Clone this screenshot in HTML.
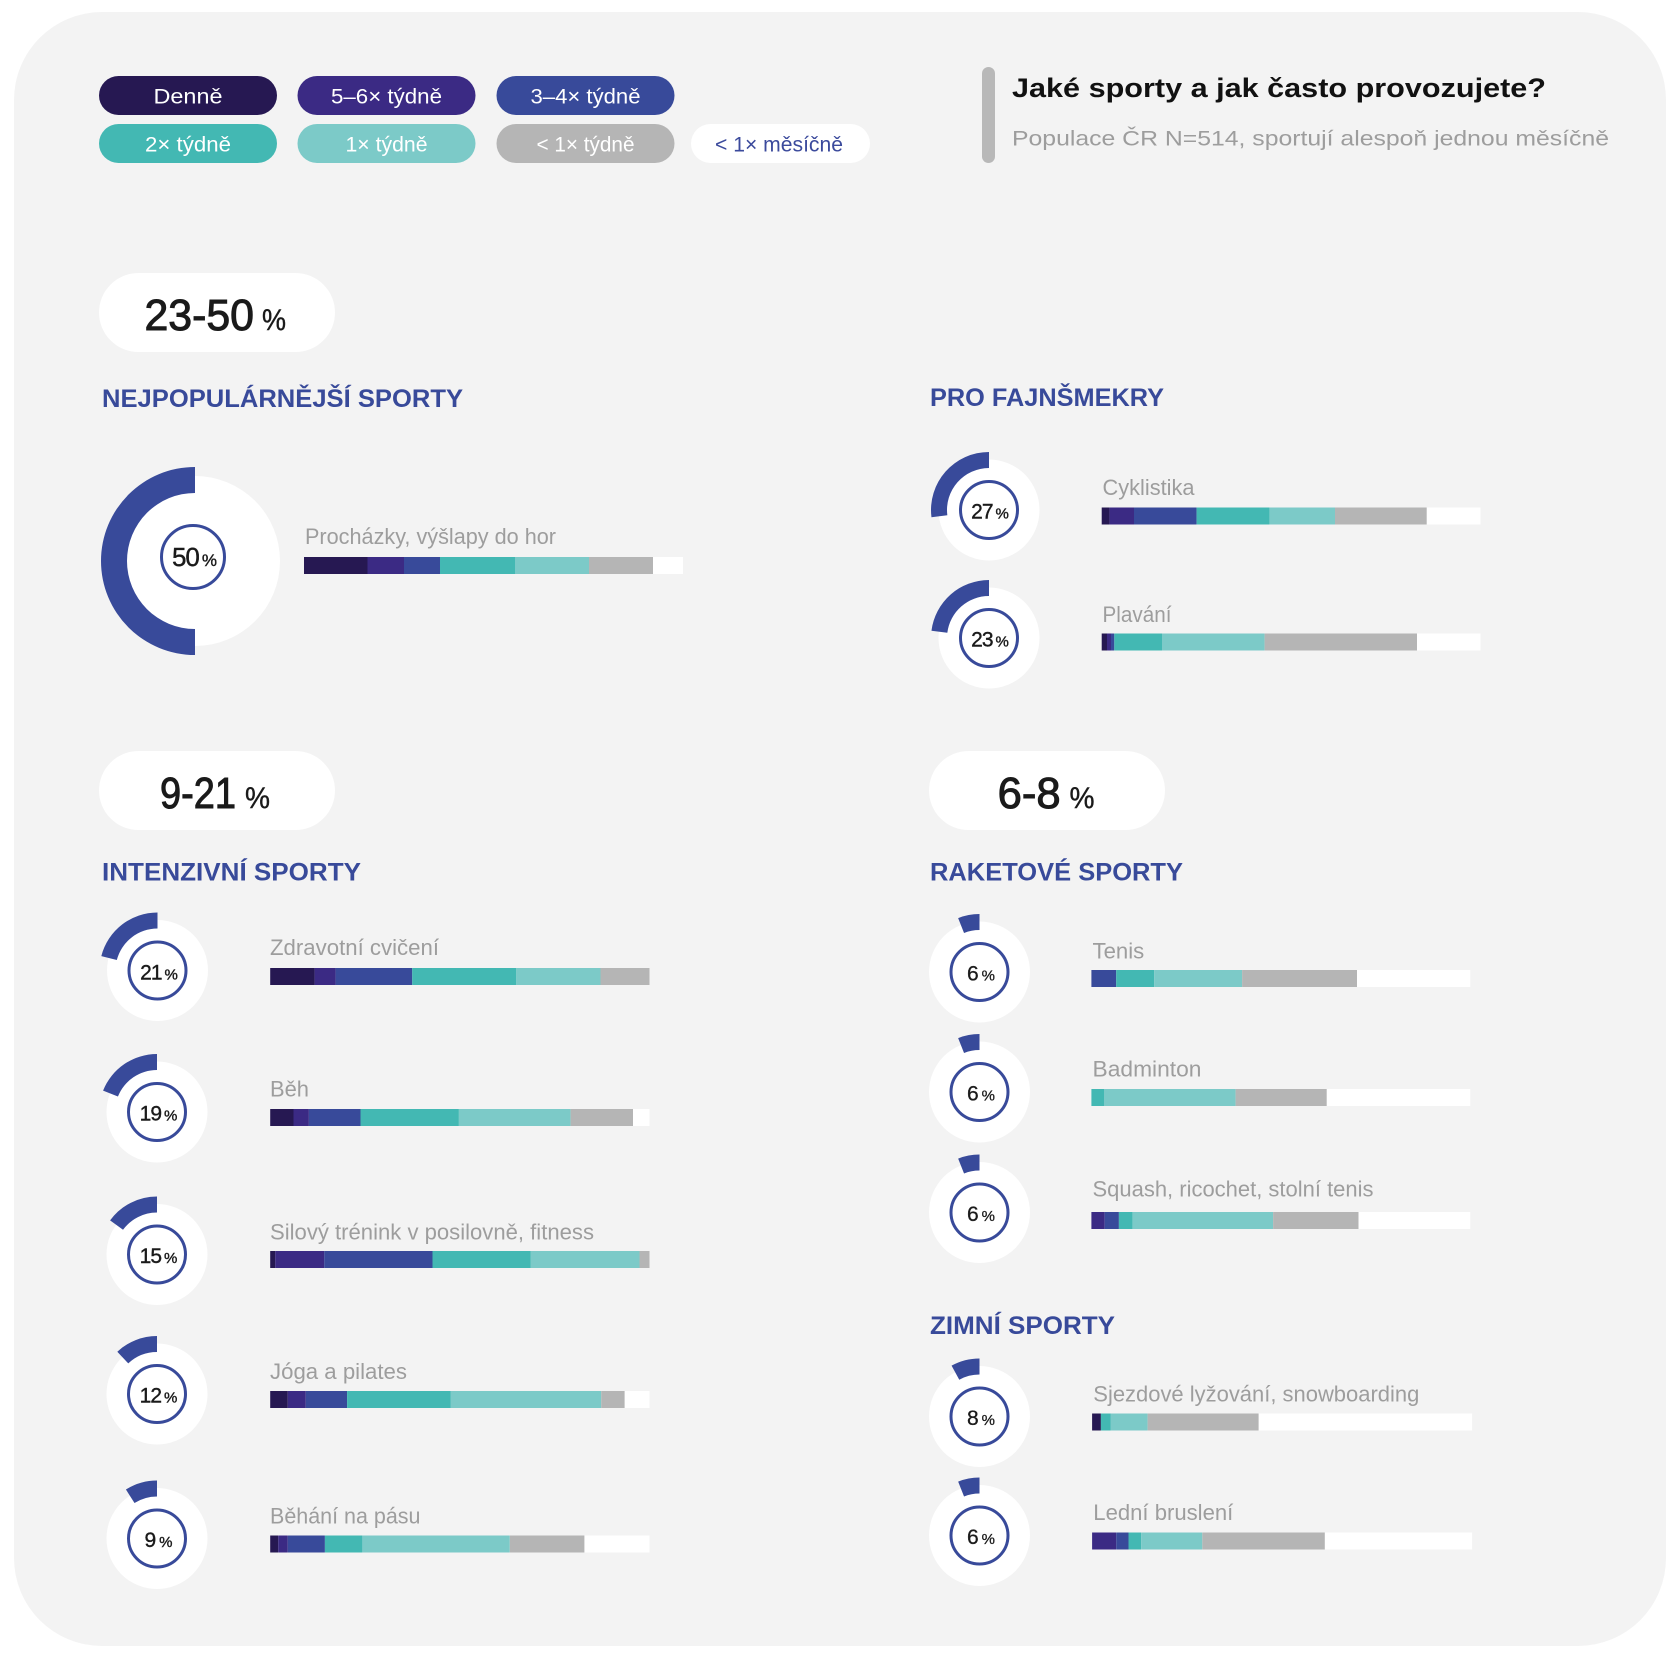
<!DOCTYPE html>
<html><head><meta charset="utf-8"><style>html,body{margin:0;padding:0;background:#fff}svg{display:block}</style></head>
<body>
<svg width="1680" height="1660" viewBox="0 0 1680 1660" xmlns="http://www.w3.org/2000/svg" font-family="'Liberation Sans', sans-serif">
<rect x="0" y="0" width="1680" height="1660" fill="#ffffff"/>
<rect x="14" y="12" width="1652" height="1634" rx="88" fill="#f3f3f3"/>

<!-- Legend -->
<g font-size="21" text-anchor="middle">
<rect x="99" y="76" width="178" height="39" rx="19.5" fill="#261852"/>
<text x="188" y="103.3" fill="#fff" textLength="69" lengthAdjust="spacingAndGlyphs">Denně</text>
<rect x="297.5" y="76" width="178" height="39" rx="19.5" fill="#3b2a84"/>
<text x="386.5" y="103.3" fill="#fff" textLength="111" lengthAdjust="spacingAndGlyphs">5–6× týdně</text>
<rect x="496.5" y="76" width="178" height="39" rx="19.5" fill="#384a9a"/>
<text x="585.5" y="103.3" fill="#fff" textLength="110" lengthAdjust="spacingAndGlyphs">3–4× týdně</text>
<rect x="99" y="124" width="178" height="39" rx="19.5" fill="#43b8b3"/>
<text x="188" y="151.7" fill="#fff" textLength="86" lengthAdjust="spacingAndGlyphs">2× týdně</text>
<rect x="297.5" y="124" width="178" height="39" rx="19.5" fill="#7ccac8"/>
<text x="386.5" y="151.7" fill="#fff" textLength="82" lengthAdjust="spacingAndGlyphs">1× týdně</text>
<rect x="496.5" y="124" width="178" height="39" rx="19.5" fill="#b5b5b5"/>
<text x="585.5" y="151.7" fill="#fff" textLength="98" lengthAdjust="spacingAndGlyphs">&lt; 1× týdně</text>
<rect x="691" y="124" width="179" height="39" rx="19.5" fill="#ffffff"/>
<text x="779" y="151.7" fill="#3b4a9c" textLength="128" lengthAdjust="spacingAndGlyphs">&lt; 1× měsíčně</text>
</g>

<!-- Title -->
<rect x="982" y="67" width="13" height="96" rx="6.5" fill="#b8b8b8"/>
<text x="1012" y="97" font-size="27" font-weight="bold" fill="#111" textLength="534" lengthAdjust="spacingAndGlyphs">Jaké sporty a jak často provozujete?</text>
<text x="1012" y="145.5" font-size="21" fill="#9d9d9d" textLength="597" lengthAdjust="spacingAndGlyphs">Populace ČR N=514, sportují alespoň jednou měsíčně</text>

<!-- Badges -->
<g fill="#1a1a1a" stroke="#1a1a1a" stroke-width="1">
<rect x="99" y="273" width="236" height="79" rx="39.5" fill="#fff" stroke="none"/>
<text x="144.5" y="330" font-size="44" textLength="109.5" lengthAdjust="spacingAndGlyphs">23-50</text>
<text x="262" y="330" font-size="30" stroke-width="0.4" textLength="24" lengthAdjust="spacingAndGlyphs">%</text>
<rect x="99" y="751" width="236" height="79" rx="39.5" fill="#fff" stroke="none"/>
<text x="160" y="808" font-size="44" textLength="76" lengthAdjust="spacingAndGlyphs">9-21</text>
<text x="245" y="808" font-size="30" stroke-width="0.4" textLength="25" lengthAdjust="spacingAndGlyphs">%</text>
<rect x="929" y="751" width="236" height="79" rx="39.5" fill="#fff" stroke="none"/>
<text x="997.6" y="808" font-size="44" textLength="63" lengthAdjust="spacingAndGlyphs">6-8</text>
<text x="1069.5" y="808" font-size="30" stroke-width="0.4" textLength="25" lengthAdjust="spacingAndGlyphs">%</text>
</g>

<!-- Headings -->
<g font-size="25" font-weight="bold" fill="#384a9a">
<text x="102" y="407" textLength="361" lengthAdjust="spacingAndGlyphs">NEJPOPULÁRNĚJŠÍ SPORTY</text>
<text x="930" y="406" textLength="234" lengthAdjust="spacingAndGlyphs">PRO FAJNŠMEKRY</text>
<text x="102" y="880.7" textLength="259" lengthAdjust="spacingAndGlyphs">INTENZIVNÍ SPORTY</text>
<text x="930" y="880.7" textLength="253" lengthAdjust="spacingAndGlyphs">RAKETOVÉ SPORTY</text>
<text x="930" y="1334" textLength="185" lengthAdjust="spacingAndGlyphs">ZIMNÍ SPORTY</text>
</g>

<!-- Donut discs -->
<g fill="#ffffff">
<circle cx="195" cy="561" r="85"/>
<circle cx="989" cy="510" r="50.5"/>
<circle cx="989" cy="638" r="50.5"/>
<circle cx="157.5" cy="970.5" r="50.5"/>
<circle cx="157" cy="1112" r="50.5"/>
<circle cx="157" cy="1254.5" r="50.5"/>
<circle cx="157" cy="1394" r="50.5"/>
<circle cx="157" cy="1538.5" r="50.5"/>
<circle cx="979.5" cy="972" r="50.5"/>
<circle cx="979.5" cy="1092" r="50.5"/>
<circle cx="979.5" cy="1212.5" r="50.5"/>
<circle cx="979.5" cy="1416.5" r="50.5"/>
<circle cx="979.5" cy="1535.5" r="50.5"/>
</g>

<!-- Arcs -->
<g fill="#384a9a">
<path d="M195,467 A94,94 0 0 0 195,655 L195,629 A68,68 0 0 1 195,493 Z"/>
<path d="M989,452 A58,58 0 0 0 931.46,517.27 L947.33,515.26 A42,42 0 0 1 989,468 Z"/>
<path d="M989,580 A58,58 0 0 0 931.46,630.73 L947.33,632.74 A42,42 0 0 1 989,596 Z"/>
<path d="M157.5,912.5 A58,58 0 0 0 101.32,956.08 L116.82,960.06 A42,42 0 0 1 157.5,928.5 Z"/>
<path d="M157,1054 A58,58 0 0 0 103.07,1090.65 L117.95,1096.54 A42,42 0 0 1 157,1070 Z"/>
<path d="M157,1196.5 A58,58 0 0 0 110.08,1220.41 L123.02,1229.81 A42,42 0 0 1 157,1212.5 Z"/>
<path d="M157,1336 A58,58 0 0 0 117.3,1351.72 L128.25,1363.38 A42,42 0 0 1 157,1352 Z"/>
<path d="M157,1480.5 A58,58 0 0 0 125.92,1489.53 L134.5,1503.04 A42,42 0 0 1 157,1496.5 Z"/>
<path d="M979.5,914 A58,58 0 0 0 958.15,918.07 L964.04,932.95 A42,42 0 0 1 979.5,930 Z"/>
<path d="M979.5,1034 A58,58 0 0 0 958.15,1038.07 L964.04,1052.95 A42,42 0 0 1 979.5,1050 Z"/>
<path d="M979.5,1154.5 A58,58 0 0 0 958.15,1158.57 L964.04,1173.45 A42,42 0 0 1 979.5,1170.5 Z"/>
<path d="M979.5,1358.5 A58,58 0 0 0 951.56,1365.67 L959.27,1379.69 A42,42 0 0 1 979.5,1374.5 Z"/>
<path d="M979.5,1477.5 A58,58 0 0 0 958.15,1481.57 L964.04,1496.45 A42,42 0 0 1 979.5,1493.5 Z"/>
</g>

<!-- Rings -->
<g fill="none" stroke="#384a9a" stroke-width="3">
<circle cx="193" cy="557" r="31.5"/>
<circle cx="989" cy="510" r="28.5"/>
<circle cx="989" cy="638" r="28.5"/>
<circle cx="157.5" cy="970.5" r="28.5"/>
<circle cx="157" cy="1112" r="28.5"/>
<circle cx="157" cy="1254.5" r="28.5"/>
<circle cx="157" cy="1394" r="28.5"/>
<circle cx="157" cy="1538.5" r="28.5"/>
<circle cx="979.5" cy="972" r="28.5"/>
<circle cx="979.5" cy="1092" r="28.5"/>
<circle cx="979.5" cy="1212.5" r="28.5"/>
<circle cx="979.5" cy="1416.5" r="28.5"/>
<circle cx="979.5" cy="1535.5" r="28.5"/>
</g>

<!-- Ring percentages -->
<g fill="#1a1a1a" text-anchor="middle">
<text x="194.5" y="566" stroke="#1a1a1a" stroke-width="0.4"><tspan font-size="26" letter-spacing="-1">50</tspan><tspan font-size="17" dx="3">%</tspan></text>
<text x="990" y="518.5" stroke="#1a1a1a" stroke-width="0.4"><tspan font-size="21" letter-spacing="-1">27</tspan><tspan font-size="15" dx="3">%</tspan></text>
<text x="990" y="646.5" stroke="#1a1a1a" stroke-width="0.4"><tspan font-size="21" letter-spacing="-1">23</tspan><tspan font-size="15" dx="3">%</tspan></text>
<text x="159" y="979.3" stroke="#1a1a1a" stroke-width="0.4"><tspan font-size="21" letter-spacing="-1">21</tspan><tspan font-size="15" dx="3">%</tspan></text>
<text x="158.5" y="1120.5" stroke="#1a1a1a" stroke-width="0.4"><tspan font-size="21" letter-spacing="-1">19</tspan><tspan font-size="15" dx="3">%</tspan></text>
<text x="158.5" y="1263" stroke="#1a1a1a" stroke-width="0.4"><tspan font-size="21" letter-spacing="-1">15</tspan><tspan font-size="15" dx="3">%</tspan></text>
<text x="158.5" y="1402.5" stroke="#1a1a1a" stroke-width="0.4"><tspan font-size="21" letter-spacing="-1">12</tspan><tspan font-size="15" dx="3">%</tspan></text>
<text x="158.5" y="1547" stroke="#1a1a1a" stroke-width="0.4"><tspan font-size="21">9</tspan><tspan font-size="15" dx="3">%</tspan></text>
<text x="981" y="980.5" stroke="#1a1a1a" stroke-width="0.3"><tspan font-size="21">6</tspan><tspan font-size="15" dx="3">%</tspan></text>
<text x="981" y="1100.5" stroke="#1a1a1a" stroke-width="0.3"><tspan font-size="21">6</tspan><tspan font-size="15" dx="3">%</tspan></text>
<text x="981" y="1221" stroke="#1a1a1a" stroke-width="0.3"><tspan font-size="21">6</tspan><tspan font-size="15" dx="3">%</tspan></text>
<text x="981" y="1425" stroke="#1a1a1a" stroke-width="0.3"><tspan font-size="21">8</tspan><tspan font-size="15" dx="3">%</tspan></text>
<text x="981" y="1544" stroke="#1a1a1a" stroke-width="0.3"><tspan font-size="21">6</tspan><tspan font-size="15" dx="3">%</tspan></text>
</g>

<!-- Labels -->
<g font-size="22" fill="#9d9d9d">
<text x="305" y="544" textLength="251" lengthAdjust="spacingAndGlyphs">Procházky, výšlapy do hor</text>
<text x="1102.5" y="495" textLength="92" lengthAdjust="spacingAndGlyphs">Cyklistika</text>
<text x="1102.5" y="622" textLength="69" lengthAdjust="spacingAndGlyphs">Plavání</text>
<text x="270" y="955" textLength="169" lengthAdjust="spacingAndGlyphs">Zdravotní cvičení</text>
<text x="270" y="1096.7" textLength="39" lengthAdjust="spacingAndGlyphs">Běh</text>
<text x="270" y="1239.3" textLength="324" lengthAdjust="spacingAndGlyphs">Silový trénink v posilovně, fitness</text>
<text x="270" y="1379" textLength="137" lengthAdjust="spacingAndGlyphs">Jóga a pilates</text>
<text x="270" y="1523.3" textLength="150.5" lengthAdjust="spacingAndGlyphs">Běhání na pásu</text>
<text x="1092.5" y="958.3" textLength="51.7" lengthAdjust="spacingAndGlyphs">Tenis</text>
<text x="1092.5" y="1076.7" textLength="109" lengthAdjust="spacingAndGlyphs">Badminton</text>
<text x="1092.5" y="1196.7" textLength="281" lengthAdjust="spacingAndGlyphs">Squash, ricochet, stolní tenis</text>
<text x="1093.3" y="1401.7" textLength="326" lengthAdjust="spacingAndGlyphs">Sjezdové lyžování, snowboarding</text>
<text x="1093.3" y="1520" textLength="140" lengthAdjust="spacingAndGlyphs">Lední bruslení</text>
</g>

<!-- Bars -->
<g>
<rect x="304" y="557" width="379" height="17" fill="#fff"/>
<rect x="304" y="557" width="63.5" height="17" fill="#261852"/>
<rect x="367.5" y="557" width="36.5" height="17" fill="#3b2a84"/>
<rect x="404" y="557" width="36" height="17" fill="#384a9a"/>
<rect x="440" y="557" width="75" height="17" fill="#43b8b3"/>
<rect x="515" y="557" width="74" height="17" fill="#7ccac8"/>
<rect x="589" y="557" width="64" height="17" fill="#b5b5b5"/>

<rect x="1101.7" y="507.5" width="378.8" height="17" fill="#fff"/>
<rect x="1101.7" y="507.5" width="7.9" height="17" fill="#261852"/>
<rect x="1109.6" y="507.5" width="24.4" height="17" fill="#3b2a84"/>
<rect x="1134" y="507.5" width="62.6" height="17" fill="#384a9a"/>
<rect x="1196.6" y="507.5" width="73.1" height="17" fill="#43b8b3"/>
<rect x="1269.7" y="507.5" width="65.3" height="17" fill="#7ccac8"/>
<rect x="1335" y="507.5" width="91.7" height="17" fill="#b5b5b5"/>

<rect x="1101.7" y="633.5" width="378.8" height="17" fill="#fff"/>
<rect x="1101.7" y="633.5" width="5.3" height="17" fill="#261852"/>
<rect x="1107" y="633.5" width="4" height="17" fill="#3b2a84"/>
<rect x="1111" y="633.5" width="3.3" height="17" fill="#384a9a"/>
<rect x="1114.3" y="633.5" width="47.7" height="17" fill="#43b8b3"/>
<rect x="1162" y="633.5" width="102.6" height="17" fill="#7ccac8"/>
<rect x="1264.6" y="633.5" width="152.4" height="17" fill="#b5b5b5"/>

<rect x="270.2" y="968" width="44.4" height="17" fill="#261852"/>
<rect x="314.6" y="968" width="21" height="17" fill="#3b2a84"/>
<rect x="335.6" y="968" width="76.6" height="17" fill="#384a9a"/>
<rect x="412.2" y="968" width="104.1" height="17" fill="#43b8b3"/>
<rect x="516.3" y="968" width="84.2" height="17" fill="#7ccac8"/>
<rect x="600.5" y="968" width="49" height="17" fill="#b5b5b5"/>

<rect x="270.2" y="1109" width="379.3" height="17" fill="#fff"/>
<rect x="270.2" y="1109" width="23.3" height="17" fill="#261852"/>
<rect x="293.5" y="1109" width="15.4" height="17" fill="#3b2a84"/>
<rect x="308.9" y="1109" width="51.6" height="17" fill="#384a9a"/>
<rect x="360.5" y="1109" width="98.4" height="17" fill="#43b8b3"/>
<rect x="458.9" y="1109" width="111.7" height="17" fill="#7ccac8"/>
<rect x="570.6" y="1109" width="62.4" height="17" fill="#b5b5b5"/>

<rect x="270.2" y="1251" width="5" height="17" fill="#261852"/>
<rect x="275.2" y="1251" width="49" height="17" fill="#3b2a84"/>
<rect x="324.2" y="1251" width="108.3" height="17" fill="#384a9a"/>
<rect x="432.5" y="1251" width="98.3" height="17" fill="#43b8b3"/>
<rect x="530.8" y="1251" width="108.7" height="17" fill="#7ccac8"/>
<rect x="639.5" y="1251" width="10" height="17" fill="#b5b5b5"/>

<rect x="270.2" y="1391" width="379.3" height="17" fill="#fff"/>
<rect x="270.2" y="1391" width="17.6" height="17" fill="#261852"/>
<rect x="287.8" y="1391" width="18" height="17" fill="#3b2a84"/>
<rect x="305.8" y="1391" width="41.3" height="17" fill="#384a9a"/>
<rect x="347.1" y="1391" width="103.4" height="17" fill="#43b8b3"/>
<rect x="450.5" y="1391" width="150.7" height="17" fill="#7ccac8"/>
<rect x="601.2" y="1391" width="23.4" height="17" fill="#b5b5b5"/>

<rect x="270.2" y="1535.5" width="379.3" height="17" fill="#fff"/>
<rect x="270.2" y="1535.5" width="8" height="17" fill="#261852"/>
<rect x="278.2" y="1535.5" width="9.6" height="17" fill="#3b2a84"/>
<rect x="287.8" y="1535.5" width="37.1" height="17" fill="#384a9a"/>
<rect x="324.9" y="1535.5" width="37.5" height="17" fill="#43b8b3"/>
<rect x="362.4" y="1535.5" width="147.4" height="17" fill="#7ccac8"/>
<rect x="509.8" y="1535.5" width="74.6" height="17" fill="#b5b5b5"/>

<rect x="1091.4" y="970" width="378.8" height="17" fill="#fff"/>
<rect x="1091.4" y="970" width="24.8" height="17" fill="#384a9a"/>
<rect x="1116.2" y="970" width="37.9" height="17" fill="#43b8b3"/>
<rect x="1154.1" y="970" width="88" height="17" fill="#7ccac8"/>
<rect x="1242.1" y="970" width="114.9" height="17" fill="#b5b5b5"/>

<rect x="1091.4" y="1089" width="378.8" height="17" fill="#fff"/>
<rect x="1091.4" y="1089" width="12.6" height="17" fill="#43b8b3"/>
<rect x="1104" y="1089" width="131.6" height="17" fill="#7ccac8"/>
<rect x="1235.6" y="1089" width="91.1" height="17" fill="#b5b5b5"/>

<rect x="1091.4" y="1212" width="378.8" height="17" fill="#fff"/>
<rect x="1091.4" y="1212" width="13.3" height="17" fill="#3b2a84"/>
<rect x="1104.7" y="1212" width="14.2" height="17" fill="#384a9a"/>
<rect x="1118.9" y="1212" width="13.8" height="17" fill="#43b8b3"/>
<rect x="1132.7" y="1212" width="140.4" height="17" fill="#7ccac8"/>
<rect x="1273.1" y="1212" width="85.4" height="17" fill="#b5b5b5"/>

<rect x="1092.1" y="1413.5" width="380" height="17" fill="#fff"/>
<rect x="1092.1" y="1413.5" width="8.8" height="17" fill="#261852"/>
<rect x="1100.9" y="1413.5" width="9.6" height="17" fill="#43b8b3"/>
<rect x="1110.5" y="1413.5" width="37.1" height="17" fill="#7ccac8"/>
<rect x="1147.6" y="1413.5" width="111" height="17" fill="#b5b5b5"/>

<rect x="1092.1" y="1532.5" width="380" height="17" fill="#fff"/>
<rect x="1092.1" y="1532.5" width="24.1" height="17" fill="#3b2a84"/>
<rect x="1116.2" y="1532.5" width="12.3" height="17" fill="#384a9a"/>
<rect x="1128.5" y="1532.5" width="12.6" height="17" fill="#43b8b3"/>
<rect x="1141.1" y="1532.5" width="61.2" height="17" fill="#7ccac8"/>
<rect x="1202.3" y="1532.5" width="122.5" height="17" fill="#b5b5b5"/>
</g>
</svg>
</body></html>
